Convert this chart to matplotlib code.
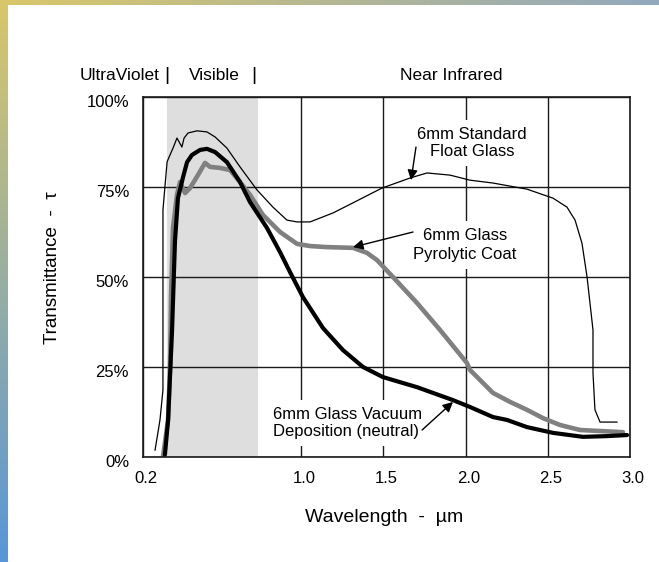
import numpy as np
import matplotlib
matplotlib.use("Agg")
import matplotlib.pyplot as plt
from matplotlib.transforms import ScaledTranslation

plt.rcParams['font.family'] = ['Liberation Sans', 'DejaVu Sans']

# ---------------- data ----------------
float_wl = [0.261, 0.286, 0.301, 0.301, 0.301, 0.322, 0.332, 0.352, 0.372, 0.397, 0.408,
            0.428, 0.473, 0.524, 0.565, 0.625, 0.691, 0.777, 0.858, 0.929, 0.980, 1.055,
            1.195, 1.316, 1.492, 1.663, 1.766, 1.906, 2.027, 2.167, 2.374, 2.532, 2.617,
            2.666, 2.708, 2.739, 2.775, 2.775, 2.787, 2.818, 2.921]
float_t = [1.9, 10.3, 18.6, 43.6, 68.6, 82.0, 83.3, 85.8, 88.6, 86.1, 88.6,
           90.0, 90.6, 90.3, 88.9, 85.8, 80.6, 74.2, 69.4, 65.8, 65.3, 65.3,
           67.8, 70.6, 74.7, 77.5, 78.9, 78.3, 76.9, 76.1, 74.4, 71.9, 69.4,
           65.8, 59.4, 50.0, 35.3, 23.3, 13.1, 9.7, 9.7]

vac_wl = [0.311, 0.327, 0.347, 0.362, 0.377, 0.403, 0.423, 0.448, 0.489, 0.524, 0.565,
          0.625, 0.691, 0.742, 0.828, 0.894, 0.944, 1.012, 1.134, 1.255, 1.377, 1.498,
          1.705, 1.924, 2.027, 2.167, 2.252, 2.374, 2.532, 2.714, 2.860, 2.982]
vac_t = [0.6, 10.3, 35.0, 60.0, 71.9, 77.8, 81.9, 83.9, 85.3, 85.6, 84.7,
         81.9, 76.4, 70.8, 63.6, 56.9, 51.4, 44.4, 35.8, 29.7, 25.0, 22.2,
         19.4, 15.8, 13.9, 11.1, 10.3, 8.3, 6.7, 5.6, 5.8, 6.1]

pyro_wl = [0.301, 0.327, 0.337, 0.342, 0.352, 0.372, 0.387, 0.413, 0.438, 0.478, 0.514,
           0.539, 0.590, 0.641, 0.691, 0.742, 0.808, 0.894, 0.980, 1.055, 1.158, 1.316,
           1.401, 1.462, 1.559, 1.705, 1.845, 2.009, 2.027, 2.167, 2.271, 2.374, 2.471,
           2.574, 2.696, 2.957]
pyro_t = [0.0, 10.3, 25.0, 45.0, 63.6, 72.8, 76.4, 73.3, 74.7, 78.3, 81.7,
          80.6, 80.3, 79.7, 76.4, 72.8, 67.2, 62.5, 59.2, 58.6, 58.3, 58.1,
          56.7, 54.7, 50.0, 42.8, 35.3, 26.1, 24.2, 17.8, 15.3, 13.1, 10.8,
          8.9, 7.5, 6.9]

visible_band = [0.32, 0.78]
xticks = [0.2, 1.0, 1.5, 2.0, 2.5, 3.0]
xticklabels = ['0.2', '1.0', '1.5', '2.0', '2.5', '3.0']
yticks = [0, 25, 50, 75, 100]
yticklabels = ['0%', '25%', '50%', '75%', '100%']
region_labels = ['UltraViolet', 'Visible', 'Near Infrared']
label_float = '6mm Standard\nFloat Glass'
label_pyro = '6mm Glass\nPyrolytic Coat'
label_vac = '6mm Glass Vacuum\nDeposition (neutral)'

# ---------------- figure ----------------
W, H = 659, 562
fig = plt.figure(figsize=(W / 100, H / 100), dpi=100)

# decorative slide frame (gradient bands)
img = np.ones((H, W, 3))
c_top = np.array([217, 199, 105]) / 255.0
c_bot = np.array([88, 150, 218]) / 255.0
c_right = np.array([145, 168, 190]) / 255.0
rows = np.linspace(0, 1, H)[:, None]
img[:, :8, :] = (c_top[None, :] * (1 - rows) + c_bot[None, :] * rows)[:, None, :]
cols = np.linspace(0, 1, W)[:, None]
img[:5, :, :] = (c_top[None, :] * (1 - cols) + c_right[None, :] * cols)[None, :, :]
fig.figimage(img, xo=0, yo=0, origin='upper', zorder=-10)


def fx(px):
    return px / W


def fy(py):
    return 1 - py / H


ax = fig.add_axes([fx(143), fy(457), (630 - 143) / W, (457 - 97) / H])
ax.set_zorder(5)
ax.set_facecolor('white')

K = 197.5 / 164.5


def fwd(x):
    x = np.asarray(x, dtype=float)
    return np.where(x < 1.0, 1.0 + (x - 1.0) * K, x)


def inv(y):
    y = np.asarray(y, dtype=float)
    return np.where(y < 1.0, 1.0 + (y - 1.0) / K, y)


ax.set_xscale('function', functions=(fwd, inv))
ax.set_xlim(0.2, 3.0)
ax.set_ylim(0, 100)

ax.axvspan(visible_band[0], visible_band[1], color='#DEDEDE', lw=0, zorder=0.2)

ax.set_xticks(xticks)
ax.set_xticklabels(xticklabels)
ax.set_yticks(yticks)
ax.set_yticklabels(yticklabels)
ax.minorticks_off()
ax.set_axisbelow(True)
ax.grid(True, color='#1a1a1a', lw=1.0)
ax.tick_params(length=0, labelsize=12, pad=10)
for lab in ax.get_yticklabels():
    lab.set_transform(lab.get_transform() + ScaledTranslation(0, -0.04, fig.dpi_scale_trans))
for lab in ax.get_xticklabels():
    lab.set_transform(lab.get_transform() + ScaledTranslation(0.03, 0, fig.dpi_scale_trans))
for s in ax.spines.values():
    s.set_color('#1a1a1a')
    s.set_linewidth(1.2)

ax.plot(pyro_wl, pyro_t, color='#808080', lw=3.3, solid_joinstyle='round',
        solid_capstyle='round', zorder=2)
ax.plot(vac_wl, vac_t, color='black', lw=3.0, solid_joinstyle='round',
        solid_capstyle='round', zorder=2.5)
ax.plot(float_wl, float_t, color='black', lw=0.9, zorder=3)

box = dict(fc='white', ec='none', pad=5)
ax.text(2.04, 87.2, label_float, ha='center', va='center', fontsize=12,
        linespacing=1.2, bbox=box, zorder=4)
ax.text(1.997, 58.9, label_pyro, ha='center', va='center', fontsize=12,
        linespacing=1.3, bbox=box, zorder=4)
ax.text(0.858, 9.4, label_vac, ha='left', va='center', fontsize=12,
        linespacing=1.15, bbox=box, zorder=4)

arrow = dict(arrowstyle='-|>', color='black', lw=1.0, mutation_scale=15,
             shrinkA=0, shrinkB=0)
ax.annotate('', xy=(1.669, 76.9), xytext=(1.699, 86.1), arrowprops=arrow, zorder=5)
ax.annotate('', xy=(1.316, 58.3), xytext=(1.681, 62.5), arrowprops=arrow, zorder=5)
ax.annotate('', xy=(1.924, 15.3), xytext=(1.736, 7.5), arrowprops=arrow, zorder=5)

# region header
fig.text(fx(120), fy(75), region_labels[0], ha='center', va='center', fontsize=12.5)
fig.text(fx(167), fy(76), '|', ha='center', va='center', fontsize=14)
fig.text(fx(214), fy(75), region_labels[1], ha='center', va='center', fontsize=12.5)
fig.text(fx(254), fy(76), '|', ha='center', va='center', fontsize=14)
fig.text(fx(451), fy(75), region_labels[2], ha='center', va='center', fontsize=12.5)

fig.text(fx(53), fy(268), 'Transmittance  -  τ', rotation=90, ha='center',
         va='center', fontsize=13.5)
fig.text(fx(384), fy(518), 'Wavelength  -  µm', ha='center', va='center', fontsize=14)

fig.savefig('out.png', dpi=100)
